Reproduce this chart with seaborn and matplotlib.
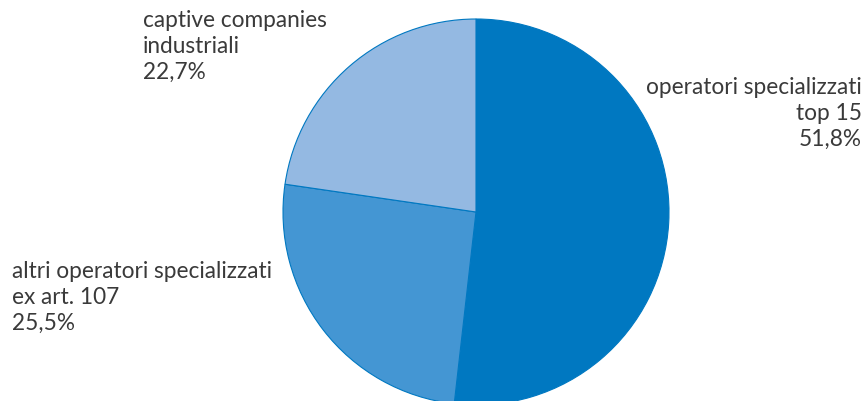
import matplotlib
matplotlib.use("Agg")
import matplotlib.pyplot as plt
import seaborn as sns

sns.set_theme(style="white")
plt.rcParams["font.family"] = ["Lato", "DejaVu Sans"]

# Shares of the market by operator type (percent)
categories = ["operatori specializzati\ntop 15",
              "altri operatori specializzati\nex art. 107",
              "captive companies\nindustriali"]
shares = [51.8, 25.5, 22.7]
share_labels = ["51,8%", "25,5%", "22,7%"]
colors = ["#0078C1", "#4496D3", "#94B9E2"]

fig = plt.figure(figsize=(8.66, 4.01), dpi=100)
ax = fig.add_axes([0, 0, 1, 1])

ax.pie(shares, colors=colors, startangle=90, counterclock=False,
       center=(476, 189), radius=193,
       wedgeprops=dict(edgecolor="#0078C1", linewidth=0.8))
ax.set_xlim(0, 866)
ax.set_ylim(0, 401)
ax.set_aspect("equal", adjustable="box")
ax.axis("off")

txt = dict(fontsize=16.3, fontweight="normal", color="#3a3a3a",
           linespacing=1.28, va="top")
ax.text(862, 401 - 77, f"{categories[0]}\n{share_labels[0]}", ha="right",
        multialignment="right", **txt)
ax.text(12, 401 - 261, f"{categories[1]}\n{share_labels[1]}", ha="left", **txt)
ax.text(143, 401 - 10, f"{categories[2]}\n{share_labels[2]}", ha="left", **txt)

fig.savefig("out.png", dpi=100)
